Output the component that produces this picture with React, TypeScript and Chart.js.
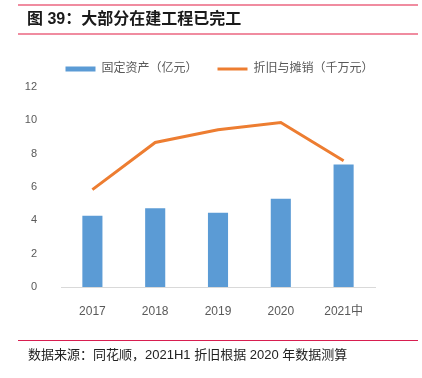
import React, { useEffect, useRef } from "react";
import { Chart, registerables } from "chart.js";

Chart.register(...registerables);

const categories = ["2017", "2018", "2019", "2020", "2021中"];
const fixedAssets = [4.28, 4.72, 4.46, 5.3, 7.35];
const depreciation = [5.84, 8.67, 9.43, 9.87, 7.57];
const yMin = 0;
const yMax = 12;
const yStep = 2;
const seriesLabels = ["固定资产（亿元）", "折旧与摊销（千万元）"];
const titleText = "图 39：大部分在建工程已完工";
const sourceText = "数据来源：同花顺，2021H1 折旧根据 2020 年数据测算";

const FONT = '"Liberation Sans", "Noto Sans CJK SC", sans-serif';

const legendPlacer = {
  id: "legendPlacer",
  beforeLayout(chart: any) {
    const lg = chart.legend;
    if (lg && !lg.__patched) {
      const orig = lg.fit.bind(lg);
      lg.fit = function () {
        orig();
        this.height = 44;
      };
      lg.__patched = true;
    }
  },
  afterLayout(chart: any) {
    const lg = chart.legend;
    if (lg) {
      lg.left += 32;
      lg.right += 32;
    }
  },
};

export default function App() {
  const ref = useRef<HTMLCanvasElement | null>(null);

  useEffect(() => {
    if (!ref.current) return;
    const chart = new Chart(ref.current, {
      data: {
        labels: categories,
        datasets: [
          {
            type: "bar",
            label: seriesLabels[0],
            data: fixedAssets,
            backgroundColor: "#5B9BD5",
            borderWidth: 0,
            categoryPercentage: 1,
            barPercentage: 0.32,
            pointStyle: "rect",
          } as any,
          {
            type: "line",
            label: seriesLabels[1],
            data: depreciation,
            borderColor: "#ED7D31",
            backgroundColor: "#ED7D31",
            borderWidth: 3,
            pointRadius: 0,
            tension: 0,
            pointStyle: "line",
          } as any,
        ],
      },
      options: {
        responsive: false,
        animation: false,
        devicePixelRatio: 1,
        layout: { padding: { left: 0, right: 47, top: 43, bottom: 61 } },
        plugins: {
          tooltip: { enabled: false },
          legend: {
            position: "top",
            labels: {
              usePointStyle: true,
              pointStyleWidth: 30,
              boxHeight: 5,
              padding: 20,
              color: "#595959",
              font: { size: 12, family: FONT },
            },
          },
        },
        scales: {
          x: {
            grid: { display: false },
            border: { display: true, color: "#D9D9D9", width: 1 },
            ticks: {
              color: "#595959",
              padding: 9,
              font: { size: 12, family: FONT },
            },
            afterFit: (s: any) => {
              s.height = 30;
            },
          },
          y: {
            min: yMin,
            max: yMax,
            grid: { display: false },
            border: { display: false },
            ticks: {
              stepSize: yStep,
              color: "#595959",
              padding: 16,
              font: { size: 11, family: FONT },
            },
            afterFit: (s: any) => {
              s.width = 61;
            },
          },
        },
      } as any,
      plugins: [legendPlacer as any],
    });
    return () => chart.destroy();
  }, []);

  return (
    <div
      style={{
        position: "fixed",
        left: 0,
        top: 0,
        width: 422,
        height: 378,
        background: "#ffffff",
        overflow: "hidden",
      }}
    >
      <canvas
        ref={ref}
        width={422}
        height={378}
        style={{ position: "absolute", left: 0, top: 0, width: 422, height: 378 }}
      />
      <div style={{ position: "absolute", left: 18, top: 4, width: 400, height: 2, background: "#F08CA0" }} />
      <div
        style={{
          position: "absolute",
          left: 27,
          top: 9,
          fontFamily: FONT,
          fontWeight: 700,
          fontSize: 16,
          lineHeight: "20px",
          color: "#1a1a1a",
          whiteSpace: "nowrap",
        }}
      >
        {titleText}
      </div>
      <div style={{ position: "absolute", left: 18, top: 33, width: 400, height: 2, background: "#F08CA0" }} />
      <div style={{ position: "absolute", left: 18, top: 340, width: 400, height: 1, background: "#D81E50" }} />
      <div
        style={{
          position: "absolute",
          left: 28,
          top: 347,
          fontFamily: FONT,
          fontSize: 13,
          lineHeight: "16px",
          color: "#222",
          whiteSpace: "nowrap",
        }}
      >
        {sourceText}
      </div>
    </div>
  );
}
